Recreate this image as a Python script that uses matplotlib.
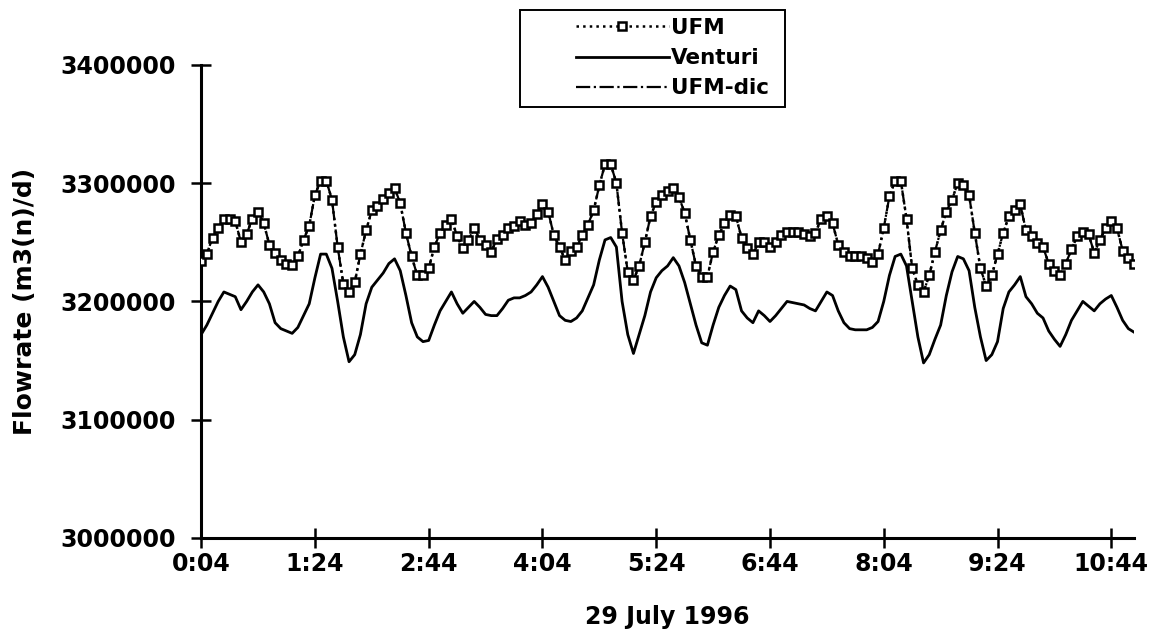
import numpy as np
import matplotlib.pyplot as plt
from matplotlib.patches import Rectangle

# 4-minute readings from 0:04 to 11:00, values in 1000 m3(n)/d
ufm = [
    3234, 3240, 3254, 3262, 3270, 3270, 3268, 3250, 3257, 3270,
    3276, 3266, 3248, 3241, 3235, 3232, 3231, 3238, 3252, 3264,
    3290, 3302, 3302, 3286, 3246, 3215, 3208, 3216, 3240, 3260,
    3277, 3281, 3287, 3292, 3296, 3283, 3258, 3238, 3222, 3222,
    3228, 3246, 3258, 3265, 3270, 3255, 3245, 3252, 3262, 3252,
    3248, 3242, 3253, 3256, 3262, 3264, 3268, 3265, 3266, 3274,
    3282, 3276, 3256, 3246, 3235, 3243, 3246, 3256, 3265, 3277,
    3298, 3316, 3316, 3300, 3258, 3225, 3218, 3230, 3250, 3272,
    3284, 3290, 3293, 3296, 3288, 3275, 3252, 3230, 3221, 3221,
    3242, 3256, 3266, 3273, 3272, 3254, 3245, 3240, 3250, 3250,
    3246, 3250, 3256, 3259, 3259, 3259, 3257, 3255, 3258, 3270,
    3272, 3266, 3248, 3242, 3238, 3238, 3238, 3237, 3233, 3240,
    3262, 3289, 3302, 3302, 3270, 3228, 3214, 3208, 3222, 3242,
    3260, 3276, 3286, 3300, 3298, 3290, 3258, 3228, 3213, 3222,
    3240, 3258, 3272, 3277, 3282, 3260, 3255, 3249, 3246, 3232,
    3226, 3222, 3232, 3244, 3255, 3259, 3257, 3241, 3252, 3262,
    3268, 3262, 3243, 3237, 3232,
]

venturi = [
    3172, 3180, 3190, 3200, 3208, 3206, 3204, 3193, 3200, 3208,
    3214, 3208, 3198, 3182, 3177, 3175, 3173, 3178, 3188, 3198,
    3220, 3240, 3240, 3228, 3200, 3170, 3149, 3155, 3172, 3198,
    3212, 3218, 3224, 3232, 3236, 3226, 3205, 3182, 3170, 3166,
    3167, 3180, 3192, 3200, 3208, 3198, 3190, 3195, 3200, 3195,
    3189, 3188, 3188, 3194, 3201, 3203, 3203, 3205, 3208, 3214,
    3221, 3212, 3200, 3188, 3184, 3183, 3186, 3192, 3203, 3214,
    3235, 3252, 3254, 3246, 3200, 3172, 3156, 3172, 3188, 3208,
    3220, 3226, 3230, 3237, 3230, 3216, 3198, 3180, 3165, 3163,
    3180, 3195, 3205, 3213, 3210, 3192, 3186, 3182, 3192, 3188,
    3183, 3188, 3194, 3200, 3199, 3198, 3197, 3194, 3192, 3200,
    3208, 3205, 3192, 3182, 3177, 3176, 3176, 3176, 3178, 3183,
    3200, 3222, 3238, 3240, 3230, 3200, 3170, 3148, 3155, 3168,
    3180, 3205, 3225, 3238, 3236, 3226, 3195, 3170, 3150, 3155,
    3166, 3194, 3208, 3214, 3221, 3204, 3198, 3190, 3186, 3175,
    3168, 3162, 3172, 3184, 3192, 3200, 3196, 3192, 3198, 3202,
    3205, 3195, 3184, 3177, 3174,
]

# UFM-dic lies on top of UFM in the picture
ufm_dic = list(ufm)

tick_labels = ['0:04', '1:24', '2:44', '4:04', '5:24', '6:44', '8:04', '9:24', '10:44']

plt.rcParams['font.family'] = 'DejaVu Sans'
plt.rcParams['font.weight'] = 'bold'

W, H = 1156, 642
fig = plt.figure(figsize=(W / 100, H / 100), dpi=100)
ax = fig.add_axes([0.174, 0.162, 0.807, 0.737])

x = np.arange(len(ufm))
ax.plot(x, np.array(ufm_dic) * 1000, linestyle='-.', color='black', linewidth=1.6,
        label='UFM-dic', zorder=2)
ax.plot(x, np.array(venturi) * 1000, linestyle='-', color='black', linewidth=2.0,
        label='Venturi', zorder=2)
ax.plot(x, np.array(ufm) * 1000, linestyle=':', color='black', linewidth=1.8,
        marker='s', markersize=6, markerfacecolor='white', markeredgecolor='black',
        markeredgewidth=1.8, label='UFM', zorder=3)

ax.set_xlim(0, len(ufm) - 1)
ax.set_ylim(3000000, 3400000)
ax.set_yticks(np.arange(3000000, 3400001, 100000))
ax.set_yticklabels([f'{v:d}' for v in range(3000000, 3400001, 100000)])
ax.set_xticks(np.arange(0, len(ufm), 20))
ax.set_xticklabels(tick_labels)

for s in ['top', 'right']:
    ax.spines[s].set_visible(False)
for s in ['left', 'bottom']:
    ax.spines[s].set_linewidth(2.2)

ax.tick_params(axis='both', direction='inout', length=14, width=1.8, labelsize=17)
ax.tick_params(axis='y', pad=11)
ax.tick_params(axis='x', pad=3)

ax.set_xlabel('29 July 1996', fontsize=17, fontweight='bold', labelpad=21)
ax.set_ylabel('Flowrate (m3(n)/d)', fontsize=18, fontweight='bold', labelpad=17)

# legend box drawn separately so the handles can sit in its right part
fig.patches.append(Rectangle((520 / W, 1 - 107 / H), 265 / W, 97 / H,
                             transform=fig.transFigure, fill=False,
                             edgecolor='black', linewidth=1.4))
h, l = ax.get_legend_handles_labels()
order = [2, 1, 0]
fig.legend([h[i] for i in order], [l[i] for i in order],
           loc='upper left', bbox_to_anchor=(576 / W, 1 - 18 / H),
           borderaxespad=0, borderpad=0, handlelength=4.3, handletextpad=0.1,
           labelspacing=0.47, frameon=False,
           prop={'weight': 'bold', 'size': 15.5})

fig.savefig('out.png', dpi=100)
